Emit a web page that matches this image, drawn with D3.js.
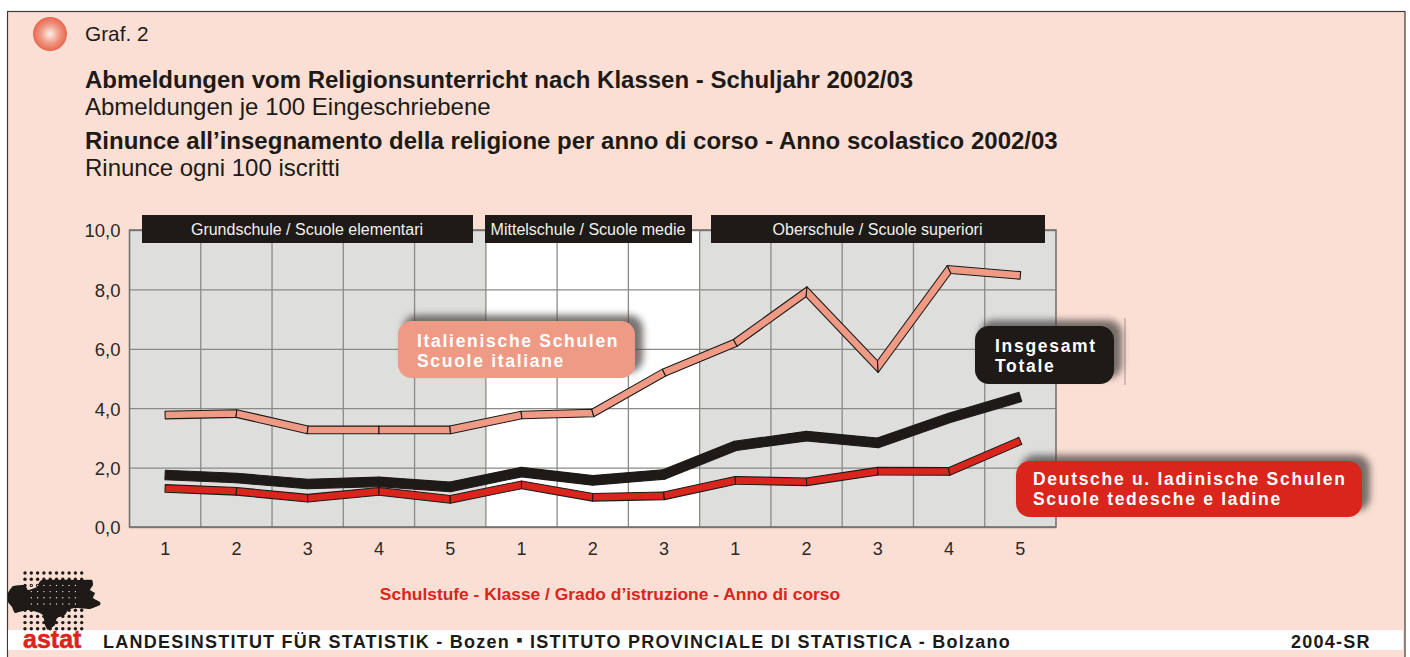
<!DOCTYPE html>
<html>
<head>
<meta charset="utf-8">
<script src="https://cdn.jsdelivr.net/npm/d3@7"></script>
<style>
  html, body { margin: 0; padding: 0; background: #fff; }
  svg { display: block; font-family: "Liberation Sans", Arial, sans-serif; }
</style>
</head>
<body>
<div id="chart"></div>
<script>
const classLabels = ['1', '2', '3', '4', '5', '1', '2', '3', '1', '2', '3', '4', '5'];
const yTicks = [0, 2, 4, 6, 8, 10];
const italianSchools = [3.77, 3.82, 3.27, 3.27, 3.27, 3.77, 3.84, 5.2, 6.2, 7.92, 5.4, 8.67, 8.47];
const allSchools = [1.75, 1.65, 1.45, 1.52, 1.35, 1.85, 1.57, 1.77, 2.73, 3.06, 2.83, 3.67, 4.38];
const germanSchools = [1.3, 1.2, 0.97, 1.2, 0.93, 1.42, 1.0, 1.05, 1.57, 1.52, 1.88, 1.87, 2.9];
const schoolHeaders = ['Grundschule / Scuole elementari', 'Mittelschule / Scuole medie', 'Oberschule / Scuole superiori'];
const titleLines = [
  'Abmeldungen vom Religionsunterricht nach Klassen - Schuljahr 2002/03',
  'Abmeldungen je 100 Eingeschriebene',
  'Rinunce all\u2019insegnamento della religione per anno di corso - Anno scolastico 2002/03',
  'Rinunce ogni 100 iscritti',
];

const width = 1410;
const height = 657;
const plot = { left: 129.5, right: 1056, top: 230, bottom: 527 };

const svg = d3.select('#chart').append('svg')
  .attr('width', width)
  .attr('height', height);

const defs = svg.append('defs');

const ball = defs.append('radialGradient').attr('id', 'ball');
ball.append('stop').attr('offset', '0%').attr('stop-color', '#fdf0ea');
ball.append('stop').attr('offset', '55%').attr('stop-color', '#ef9a85');
ball.append('stop').attr('offset', '100%').attr('stop-color', '#e8674f');

defs.append('filter').attr('id', 'soft')
  .attr('x', '-10%').attr('y', '-30%').attr('width', '120%').attr('height', '160%')
  .append('feGaussianBlur').attr('stdDeviation', 3.5);

// Panel
svg.append('rect')
  .attr('x', 7.5).attr('y', 11.5)
  .attr('width', 1397.5).attr('height', height)
  .attr('fill', '#fbdfd4')
  .attr('stroke', '#3f3a36')
  .attr('stroke-width', 1.2);

svg.append('circle')
  .attr('cx', 50).attr('cy', 34).attr('r', 17)
  .attr('fill', 'url(#ball)');

svg.append('text')
  .attr('x', 85).attr('y', 41)
  .attr('font-size', 20.8)
  .attr('fill', '#1d1a17')
  .text('Graf. 2');

// Titles
const titleY = [87.5, 114.5, 148.5, 175.5];

svg.selectAll('text.title')
  .data(titleLines)
  .join('text')
  .attr('class', 'title')
  .attr('x', 85)
  .attr('y', (d, i) => titleY[i])
  .attr('font-size', 24)
  .attr('font-weight', (d, i) => i % 2 === 0 ? 'bold' : 'normal')
  .attr('fill', '#1d1a17')
  .text(d => d);

// Scales
const x = d3.scaleBand()
  .domain(d3.range(classLabels.length))
  .range([plot.left, plot.right]);

const y = d3.scaleLinear()
  .domain([0, 10])
  .range([plot.bottom, plot.top]);

const mid = i => x(i) + x.bandwidth() / 2;

// Plot background, the middle school block stays white
svg.append('rect')
  .attr('x', plot.left).attr('y', plot.top)
  .attr('width', plot.right - plot.left).attr('height', plot.bottom - plot.top)
  .attr('fill', '#dededd');

svg.append('rect')
  .attr('x', x(5)).attr('y', plot.top)
  .attr('width', x.step() * 3).attr('height', plot.bottom - plot.top)
  .attr('fill', '#fff');

// Grid
svg.append('g')
  .selectAll('line')
  .data(d3.range(1, classLabels.length))
  .join('line')
  .attr('x1', d => x(d)).attr('x2', d => x(d))
  .attr('y1', plot.top).attr('y2', plot.bottom)
  .attr('stroke', '#8a8a88')
  .attr('stroke-width', 1.3);

const yAxis = svg.append('g')
  .attr('transform', `translate(${plot.left},0)`)
  .call(d3.axisLeft(y)
    .tickValues(yTicks)
    .tickSize(-(plot.right - plot.left))
    .tickPadding(9)
    .tickFormat(d => d3.format('.1f')(d).replace('.', ',')));

yAxis.select('.domain').remove();
yAxis.selectAll('.tick line').attr('stroke', '#8a8a88').attr('stroke-width', 1.3);
yAxis.selectAll('.tick text')
  .attr('font-size', 18.5)
  .attr('y', 1)
  .attr('font-family', '"Liberation Sans", Arial, sans-serif')
  .attr('fill', '#2b2825');

svg.append('rect')
  .attr('x', plot.left).attr('y', plot.top)
  .attr('width', plot.right - plot.left).attr('height', plot.bottom - plot.top)
  .attr('fill', 'none')
  .attr('stroke', '#6f6d6b')
  .attr('stroke-width', 1.5);

const xAxis = svg.append('g')
  .attr('transform', `translate(0,${plot.bottom})`)
  .call(d3.axisBottom(x)
    .tickSize(0)
    .tickPadding(15)
    .tickFormat(i => classLabels[i]));

xAxis.select('.domain').remove();
xAxis.selectAll('.tick text')
  .attr('font-size', 18)
  .attr('font-family', '"Liberation Sans", Arial, sans-serif')
  .attr('fill', '#2b2825');

// Ribbons: one closed piece per segment, the joints are mitred so they show
function ribbon(values, thickness, fill, stroke) {
  const pts = values.map((v, i) => [mid(i), y(v)]);

  const unit = (a, b) => {
    const dx = b[0] - a[0];
    const dy = b[1] - a[1];
    const len = Math.hypot(dx, dy);
    return [dx / len, dy / len];
  };

  // offset vector from a point to the upper edge of the ribbon, sharp tips are cut short
  const offsets = pts.map((p, i) => {
    const before = i > 0 ? unit(pts[i - 1], p) : unit(p, pts[i + 1]);
    const after = i < pts.length - 1 ? unit(p, pts[i + 1]) : before;
    const tx = before[0] + after[0];
    const ty = before[1] + after[1];
    const len = Math.hypot(tx, ty);
    const nx = ty / len;
    const ny = -tx / len;
    const cos = nx * before[1] - ny * before[0];
    const miter = Math.min((thickness / 2) / cos, thickness * 0.8);
    return [nx * miter, ny * miter];
  });

  const line = d3.line();

  svg.append('g')
    .selectAll('path')
    .data(d3.range(pts.length - 1))
    .join('path')
    .attr('d', i => {
      const a = pts[i];
      const b = pts[i + 1];
      const oa = offsets[i];
      const ob = offsets[i + 1];
      return line([
        [a[0] + oa[0], a[1] + oa[1]],
        [b[0] + ob[0], b[1] + ob[1]],
        [b[0] - ob[0], b[1] - ob[1]],
        [a[0] - oa[0], a[1] - oa[1]],
      ]) + 'Z';
    })
    .attr('fill', fill)
    .attr('stroke', stroke)
    .attr('stroke-width', 1.1)
    .attr('stroke-linejoin', 'round');
}

ribbon(italianSchools, 7.6, '#ef9a85', '#1d1a17');
ribbon(germanSchools, 7.6, '#da251c', '#1d1a17');
ribbon(allSchools, 9.5, '#1d1a17', '#1d1a17');

// Header bars over the plot
const headerBoxes = [[142, 473], [485, 692], [711, 1045]];

svg.append('g')
  .selectAll('rect')
  .data(headerBoxes)
  .join('rect')
  .attr('x', d => d[0]).attr('y', 215)
  .attr('width', d => d[1] - d[0]).attr('height', 28)
  .attr('fill', '#1d1a17');

svg.append('g')
  .selectAll('text')
  .data(headerBoxes)
  .join('text')
  .attr('x', d => (d[0] + d[1]) / 2 - 0.5).attr('y', 235)
  .attr('text-anchor', 'middle')
  .attr('font-size', 16)
  .attr('fill', '#f4f1ee')
  .text((d, i) => schoolHeaders[i]);

// Series labels
const labelBoxes = [
  { x: 398, y: 321, w: 237, h: 57, fill: '#ef9a85', lines: ['Italienische Schulen', 'Scuole italiane'], tx: 417, ty: 26 },
  { x: 975, y: 326, w: 139, h: 58, fill: '#1d1a17', lines: ['Insgesamt', 'Totale'], tx: 995, ty: 26 },
  { x: 1016, y: 461, w: 346, h: 56, fill: '#da251c', lines: ['Deutsche u. ladinische Schulen', 'Scuole tedesche e ladine'], tx: 1033, ty: 24 },
];

svg.append('line')
  .attr('x1', 1125).attr('x2', 1125)
  .attr('y1', 318).attr('y2', 385)
  .attr('stroke', '#b9a8a2')
  .attr('stroke-width', 1.3);

labelBoxes.forEach(b => {
  svg.append('rect')
    .attr('x', b.x + 5).attr('y', b.y - 6)
    .attr('width', b.w + 3).attr('height', b.h)
    .attr('rx', 14)
    .attr('fill', '#4a4542')
    .attr('opacity', 0.75)
    .attr('filter', 'url(#soft)');

  svg.append('rect')
    .attr('x', b.x).attr('y', b.y)
    .attr('width', b.w).attr('height', b.h)
    .attr('rx', 14)
    .attr('fill', b.fill);

  b.lines.forEach((line, i) => {
    svg.append('text')
      .attr('x', b.tx).attr('y', b.y + b.ty + i * 20)
      .attr('font-size', 17.5)
      .attr('font-weight', 'bold')
      .attr('letter-spacing', 1.7)
      .attr('fill', '#fff')
      .text(line);
  });
});

// Axis title
svg.append('text')
  .attr('x', 610).attr('y', 600)
  .attr('text-anchor', 'middle')
  .attr('font-size', 17.4)
  .attr('font-weight', 'bold')
  .attr('fill', '#da251c')
  .text('Schulstufe - Klasse / Grado d\u2019istruzione - Anno di corso');

// Footer band
svg.append('rect')
  .attr('x', 8).attr('y', 630)
  .attr('width', 1395).attr('height', 20)
  .attr('fill', '#fff');

// Logo
const logo = svg.append('g');
const blob = [[8, 593], [13, 586], [25, 585], [28, 590], [37, 587], [42, 580], [82, 580], [92, 580], [93, 585], [90, 590], [95, 593], [93, 598], [100, 602], [100, 605], [90, 609], [75, 608], [68, 610], [65, 615], [57, 618], [55, 625], [48, 630], [45, 625], [43, 615], [37, 612], [27, 610], [15, 613], [12, 607], [8, 602]];

logo.append('path')
  .attr('d', d3.line().curve(d3.curveCardinalClosed.tension(0.6))(blob))
  .attr('fill', '#1d1a17');

const dotColumns = d3.range(10).map(i => 25 + i * 6.3);
const dotRows = d3.range(10).map(i => 573 + i * 6.2);

dotRows.forEach(cy => {
  logo.append('g')
    .selectAll('circle')
    .data(dotColumns)
    .join('circle')
    .attr('cx', d => d)
    .attr('cy', cy)
    .attr('r', 1.7)
    .attr('fill', '#1d1a17');
});

dotRows.slice(2, 6).forEach(cy => {
  logo.append('g')
    .selectAll('circle')
    .data(dotColumns.slice(1, 9))
    .join('circle')
    .attr('cx', d => d)
    .attr('cy', cy)
    .attr('r', 0.7)
    .attr('fill', '#fbdfd4');
});

svg.append('text')
  .attr('x', 23).attr('y', 648)
  .attr('font-size', 25)
  .attr('font-weight', 'bold')
  .attr('fill', '#da251c')
  .attr('stroke', '#da251c')
  .attr('stroke-width', 0.5)
  .text('astat');

const footer = svg.append('text')
  .attr('x', 103).attr('y', 648)
  .attr('font-size', 18)
  .attr('font-weight', 'bold')
  .attr('letter-spacing', 1.24)
  .attr('fill', '#1d1a17');

footer.append('tspan').text('LANDESINSTITUT F\u00dcR STATISTIK - Bozen ');
footer.append('tspan').attr('dy', -2).text('\u25aa');
footer.append('tspan').attr('dy', 2).text(' ISTITUTO PROVINCIALE DI STATISTICA - Bolzano');

svg.append('text')
  .attr('x', 1291).attr('y', 648)
  .attr('font-size', 18)
  .attr('font-weight', 'bold')
  .attr('letter-spacing', 1.24)
  .attr('fill', '#1d1a17')
  .text('2004-SR');
</script>
</body>
</html>
